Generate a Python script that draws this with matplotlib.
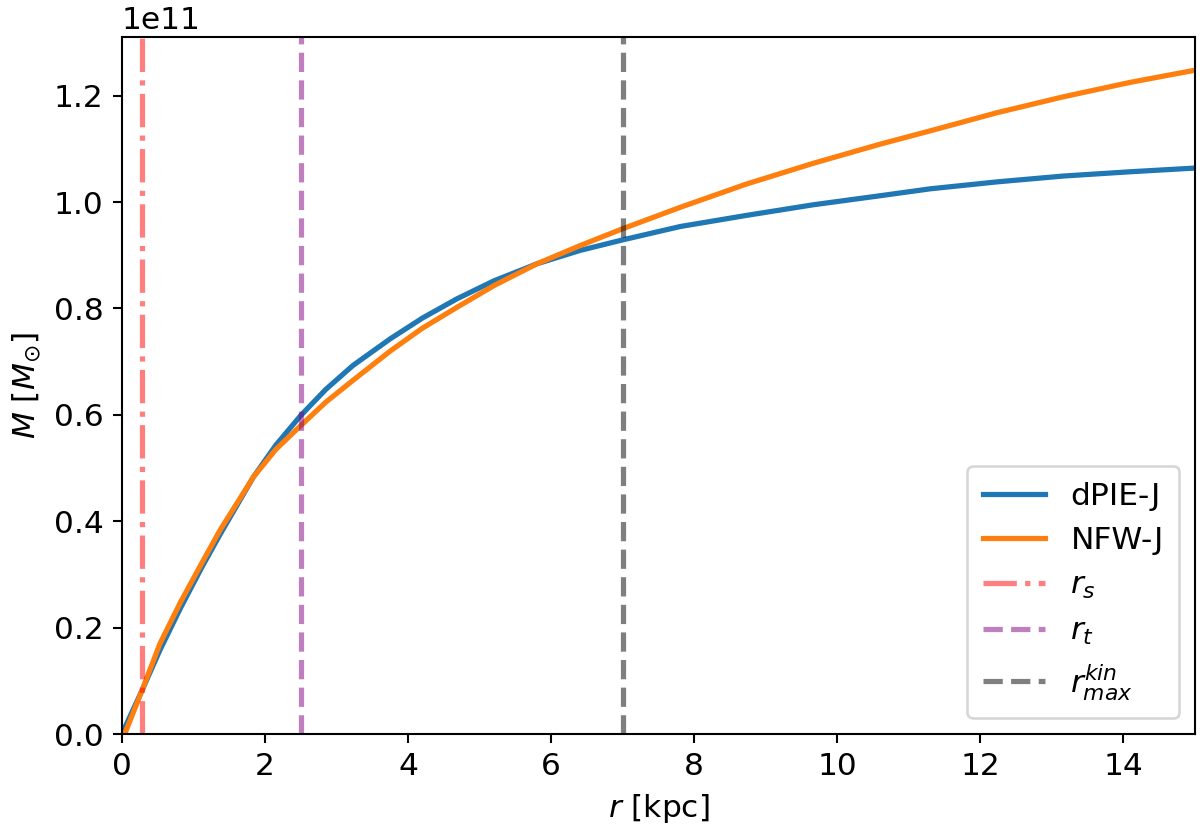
import matplotlib
matplotlib.use("Agg")
import matplotlib.pyplot as plt
import numpy as np

# radius [kpc]
r_kpc = [0.0, 0.05, 0.112, 0.28, 0.531, 0.811, 1.114, 1.37, 1.836, 2.15, 2.5,
         2.85, 3.23, 3.75, 4.2, 4.68, 5.2, 5.8, 6.4, 7.0, 7.8, 8.73, 9.665,
         10.6, 11.3, 12.23, 13.16, 14.09, 15.0]
# enclosed mass [1e11 Msun]
m_dpie = [0.0, 0.015, 0.033, 0.082, 0.158, 0.235, 0.313, 0.375, 0.483, 0.543,
          0.599, 0.648, 0.693, 0.743, 0.782, 0.818, 0.852, 0.884, 0.909, 0.929,
          0.954, 0.975, 0.995, 1.012, 1.025, 1.038, 1.049, 1.057, 1.064]
m_nfw = [0.0, 0.004, 0.025, 0.082, 0.170, 0.246, 0.321, 0.383, 0.483, 0.535,
         0.580, 0.624, 0.665, 0.720, 0.763, 0.802, 0.843, 0.884, 0.918, 0.950,
         0.990, 1.034, 1.073, 1.109, 1.134, 1.168, 1.198, 1.225, 1.248]
mass_scale = 1e11

r_s = 0.28
r_t = 2.5
r_max_kin = 7.0

plt.rcParams['font.family'] = ['DejaVu Sans']
plt.rcParams['font.size'] = 12

fig = plt.figure(figsize=(6.4, 835 / 187.5), dpi=187.5)
ax = fig.add_axes([122 / 1200, 1 - 734 / 835, (1195 - 122) / 1200, (734 - 37) / 835])

ax.plot(r_kpc, np.array(m_dpie) * mass_scale, color='C0', lw=2, label='dPIE-J')
ax.plot(r_kpc, np.array(m_nfw) * mass_scale, color='C1', lw=2, label='NFW-J')
ax.axvline(r_s, color='red', alpha=0.5, ls='-.', lw=2, label='$r_s$')
ax.axvline(r_t, color='purple', alpha=0.5, ls='--', lw=2, label='$r_t$')
ax.axvline(r_max_kin, color='k', alpha=0.5, ls='--', lw=2, label='$r_{max}^{kin}$')

ax.set_xlim(0, 15)
ax.set_ylim(bottom=0)
ax.set_xlabel('$r$ [kpc]')
ax.set_ylabel(r'$M$ [$M_{\odot}$]')
ax.legend(loc='lower right', borderpad=0.5)

fig.savefig('out.png', dpi=187.5)
